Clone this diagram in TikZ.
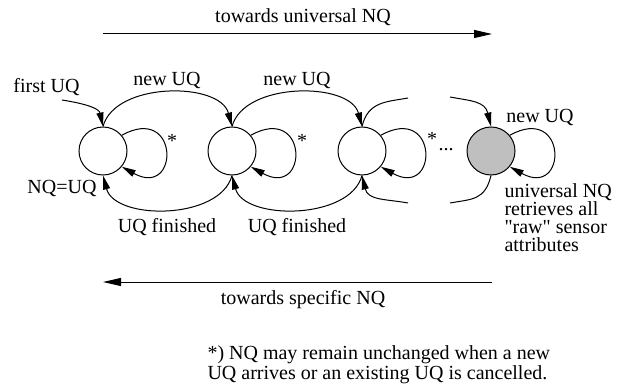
\documentclass[tikz,border=0pt]{standalone}
\usepackage{fontspec}
\setmainfont{Liberation Serif}
\newfontfamily\straightq{Liberation Serif}
\usetikzlibrary{arrows.meta}
\tikzset{arr/.style={-{Triangle[length=7pt,width=3.5pt]}},
  bigarr/.style={-{Triangle[length=9pt,width=4pt]}},
  state/.style={draw, circle, minimum size=24pt, inner sep=0pt},
  lbl/.style={inner sep=0pt, font=\fontsize{10}{9}\selectfont}}

\begin{document}
\begin{tikzpicture}[x=0.5pt, y=0.5pt, line width=0.5pt]
  \useasboundingbox (0,0) rectangle (619,385);
  % states
  \node[state] (s1) at (103,234) {};
  \node[state] (s2) at (232,234) {};
  \node[state] (s3) at (362,234) {};
  \node[state, fill=gray!50] (s4) at (491,234) {};
  % direction arrows
  \coordinate (ua) at (103,351);
  \coordinate (ub) at (492,351);
  \draw[bigarr] (ua) -- (ub);
  \node[lbl, anchor=base] (up) at (303,362) {towards universal NQ};
  \coordinate (da) at (492,103);
  \coordinate (db) at (103,103);
  \draw[bigarr] (da) -- (db);
  \node[lbl, anchor=base] (down) at (303,81) {towards specific NQ};
  % entry
  \node[lbl, anchor=base] (first) at (46.5,292) {first UQ};
  \coordinate (fq) at (62,285);
  \draw[arr] (fq) .. controls +(25,-4) and +(-4,18) .. (s1.north);
  \node[lbl, anchor=base east] (eq) at (97,191) {NQ=UQ};
  % new UQ on top
  \draw[arr] (s1.north) .. controls +(12,45) and +(-12,45) .. (s2.north);
  \draw[arr] (s2.north) .. controls +(12,45) and +(-12,45) .. (s3.north);
  \coordinate (t3) at (408,287);
  \coordinate (t4) at (450,288);
  \draw (s3.north) .. controls +(6,25) and +(-22,-4) .. (t3);
  \draw[arr] (t4) .. controls +(22,-4) and +(-6,25) .. (s4.north);
  \node[lbl, anchor=base] (nu1) at (167,299) {new UQ};
  \node[lbl, anchor=base] (nu2) at (297,299) {new UQ};
  % UQ finished below
  \draw[arr] (s2.south) .. controls +(-12,-45) and +(12,-45) .. (s1.south);
  \draw[arr] (s3.south) .. controls +(-12,-45) and +(12,-45) .. (s2.south);
  \coordinate (b4) at (450,182);
  \coordinate (b3) at (408,182);
  \draw (s4.south) .. controls +(-6,-25) and +(22,4) .. (b4);
  \draw[arr] (b3) .. controls +(-22,4) and +(6,-25) .. (s3.south);
  \node[lbl, anchor=base] (fin1) at (167,152) {UQ finished};
  \node[lbl, anchor=base] (fin2) at (297,152) {UQ finished};
  % self loops
  \foreach \s in {s1,s2,s3,s4}
    \draw[arr] (\s.40) .. controls +(58,32) and +(58,-32) .. (\s.-40);
  \node[lbl, anchor=base] (st1) at (172,237) {*};
  \node[lbl, anchor=base] (st2) at (302,237) {*};
  \node[lbl, anchor=base] (st3) at (432,239) {*};
  \node[lbl, anchor=base] (dots) at (446,234) {...};
  \node[lbl, anchor=base] (nu4) at (540,262) {new UQ};
  \node[lbl, anchor=north west, align=left] (univ) at (504,202)
    {universal NQ\\retrieves all\\{\straightq"}raw{\straightq"} sensor\\attributes};
  % footnote
  \node[lbl, anchor=north west, align=left, font=\fontsize{10}{8.5}\selectfont] (note) at (207,40)
    {*) NQ may remain unchanged when a new\\UQ arrives or an existing UQ is cancelled.};
\end{tikzpicture}
\end{document}
